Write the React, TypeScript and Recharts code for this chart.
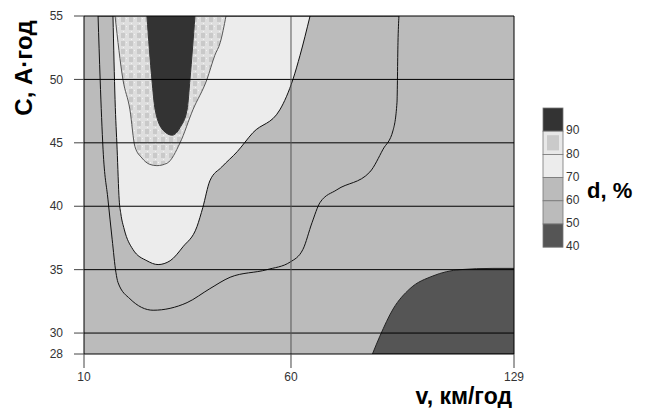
import { Area, CartesianGrid, ComposedChart, ReferenceLine, XAxis, YAxis } from "recharts";

// contour lines: v in km/h, C in A·h (lower edge of each region)
const contour60V = [13.4, 13.9, 14.6, 15.8, 16.8, 17.7, 18.2, 21.1, 26.7, 34.9, 40.4, 45.3, 54.2, 59.8, 63.7, 66.5, 69.0, 74.2, 84.4, 88.5, 91.6, 92.8, 93.1, 93.4];
const contour60C = [55, 50.0, 44.5, 40.5, 37.4, 34.8, 34.0, 32.7, 31.8, 32.4, 33.5, 34.4, 35.0, 35.6, 36.6, 38.7, 40.3, 41.3, 42.7, 44.5, 46.0, 48.2, 52.9, 55];

const contour70V = [17.0, 17.5, 18.0, 18.5, 18.9, 19.7, 21.8, 25.2, 27.9, 30.8, 33.9, 37.3, 38.7, 40.4, 43.3, 47.0, 50.8, 57.3, 60.6, 62.8, 65.9];
const contour70C = [55, 48.4, 44.5, 40.5, 39.4, 38.2, 36.6, 35.7, 35.4, 35.7, 36.8, 38.4, 39.9, 42.0, 43.1, 44.3, 45.8, 47.6, 50.0, 51.9, 55];

const contour80V = [17.5, 19.4, 21.1, 22.3, 24.0, 25.9, 27.6, 30.1, 33.2, 36.3, 39.7, 41.6, 42.9, 44.3];
const contour80C = [55, 50.0, 47.6, 44.7, 43.8, 43.3, 43.2, 43.4, 45.0, 47.6, 50.0, 51.9, 52.9, 55];

const contour90V = [25.2, 26.4, 27.2, 29.1, 31.3, 33.2, 34.9, 35.6, 36.8];
const contour90C = [55, 50.0, 47.6, 46.0, 45.6, 46.2, 47.6, 50.0, 55];

// upper edge of the 40-50 corner
const contour50V = [85.2, 87.5, 91.6, 96.8, 103.9, 112.3, 122.5, 129];
const contour50C = [28, 29.7, 31.9, 33.5, 34.5, 35.0, 35.1, 35.1];

const xTicks = [10, 60, 129];
const yTicks = [28, 30, 35, 40, 45, 50, 55];
const gridC = [30, 35, 40, 45, 50];
const gridV = [60];
const legendLevels = [40, 50, 60, 70, 80, 90];

// the original axes are not uniform: 60..129 is squeezed, and so is 28..30
const xu = (v: number) => (v <= 60 ? v : 60 + (v - 60) * 0.7807);
const yu = (c: number) => (c >= 30 ? c : 30 - (30 - c) * 0.8255);

type Pt = { v: number; lo: number; hi: number };
const above = (vs: number[], cs: number[]): Pt[] => vs.map((v, i) => ({ v, lo: cs[i], hi: 55 }));
const below = (vs: number[], cs: number[]): Pt[] => vs.map((v, i) => ({ v, lo: 28, hi: cs[i] }));

const band60 = above(contour60V, contour60C);
const band70 = above(contour70V, contour70C);
const band80 = above(contour80V, contour80C);
const band90 = above(contour90V, contour90C);
const band40 = below(contour50V, contour50C);

const GRAY = "#bbbbbb";
const tickFont = { fontSize: 12, fill: "#333", fontFamily: "'Liberation Sans Narrow', 'Arial Narrow', sans-serif" };
const titleFont = "'Liberation Sans', Arial, sans-serif";

// legend swatches from the 90+ band down to 40-50
const legendFills = ["#333333", "url(#p80)", "#ececec", GRAY, GRAY, "#555555"];

const range = (d: Pt) => [yu(d.lo), yu(d.hi)];

export default function App() {
  const seg = 23.2;
  return (
    <div style={{ position: "absolute", left: 0, top: 0, width: 649, height: 408, background: "#fff" }}>
      <ComposedChart width={649} height={408} margin={{ top: 16, right: 135, left: 24, bottom: 14 }}>
        <defs>
          <pattern id="p80" width="8" height="8" patternUnits="userSpaceOnUse">
            <rect width="8" height="8" fill="#dedede" />
            <rect x="1" y="1" width="4" height="5" fill="#c9c9c9" />
            <rect x="6" y="2" width="1" height="1" fill="#f4f4f4" />
            <rect x="3" y="7" width="1" height="1" fill="#f4f4f4" />
          </pattern>
        </defs>
        <CartesianGrid fill={GRAY} horizontal={false} vertical={false} />
        <XAxis
          type="number"
          dataKey={(d: Pt) => xu(d.v)}
          domain={[xu(10), xu(129)]}
          allowDataOverflow
          ticks={xTicks.map(xu)}
          tickFormatter={(u: number) => String(xTicks.find((t) => Math.abs(xu(t) - u) < 0.01) ?? "")}
          tick={tickFont}
          tickSize={14}
          tickMargin={4}
          height={40}
          axisLine={{ stroke: "#000" }}
          tickLine={{ stroke: "#444" }}
        />
        <YAxis
          type="number"
          domain={[yu(28), 55]}
          allowDataOverflow
          ticks={yTicks.map(yu)}
          tickFormatter={(w: number) => String(yTicks.find((t) => Math.abs(yu(t) - w) < 0.01) ?? "")}
          tick={tickFont}
          tickSize={10}
          tickMargin={11}
          width={60}
          axisLine={{ stroke: "#000" }}
          tickLine={{ stroke: "#444" }}
        />
        <Area data={band60} dataKey={range} type="monotone" fill={GRAY} fillOpacity={1} stroke="#111" strokeWidth={1} dot={false} activeDot={false} isAnimationActive={false} />
        <Area data={band70} dataKey={range} type="monotone" fill="#ececec" fillOpacity={1} stroke="#111" strokeWidth={1} dot={false} activeDot={false} isAnimationActive={false} />
        <Area data={band80} dataKey={range} type="monotone" fill="url(#p80)" fillOpacity={1} stroke="#555" strokeWidth={1} dot={false} activeDot={false} isAnimationActive={false} />
        <Area data={band90} dataKey={range} type="monotone" fill="#333333" fillOpacity={1} stroke="#333" strokeWidth={1} dot={false} activeDot={false} isAnimationActive={false} />
        <Area data={band40} dataKey={range} type="monotone" fill="#555555" fillOpacity={1} stroke="#222" strokeWidth={1} dot={false} activeDot={false} isAnimationActive={false} />
        {gridC.map((c) => (
          <ReferenceLine key={c} y={yu(c)} stroke="#000" strokeWidth={1} />
        ))}
        {gridV.map((v) => (
          <ReferenceLine key={v} x={xu(v)} stroke="#555" strokeWidth={1} />
        ))}
        <ReferenceLine y={55} stroke="#000" />
        <ReferenceLine x={xu(129)} stroke="#000" />
      </ComposedChart>
      <svg width={649} height={408} style={{ position: "absolute", left: 0, top: 0, pointerEvents: "none" }}>
        <text x={0} y={0} transform="translate(32,68) rotate(-90)" textAnchor="middle" fontFamily={titleFont} fontWeight="bold" fontSize={24} fill="#000">
          С, А·год
        </text>
        <text x={512} y={404} textAnchor="end" fontFamily={titleFont} fontWeight="bold" fontSize={23} fill="#000">
          v, км/год
        </text>
        <text x={587} y={198} fontFamily={titleFont} fontWeight="bold" fontSize={22} fill="#000">
          d, %
        </text>
        {legendFills.map((f, i) => (
          <rect key={i} x={543} y={108 + i * seg} width={20} height={seg} fill={f === "url(#p80)" ? "#e8e8e8" : f} stroke="#777" strokeWidth={0.8} />
        ))}
        <rect x={547} y={108 + seg + 4} width={12} height={seg - 8} fill="#cacaca" />
        {legendLevels.map((lv, i) => (
          <text key={lv} x={566} y={108 + (6 - i) * seg} dominantBaseline="middle" {...tickFont}>
            {lv}
          </text>
        ))}
      </svg>
    </div>
  );
}
